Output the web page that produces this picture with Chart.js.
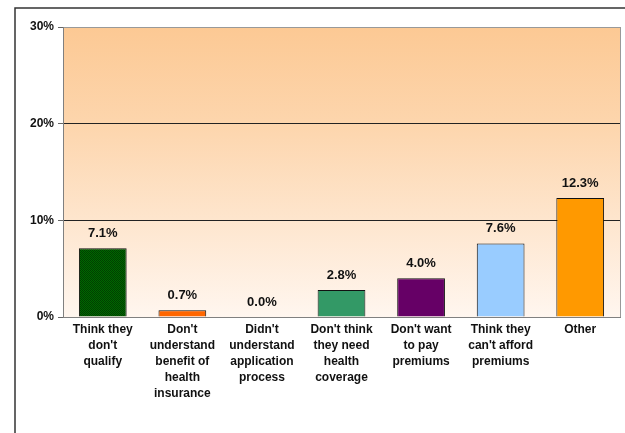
<!DOCTYPE html>
<html>
<head>
<meta charset="utf-8">
<script src="https://cdn.jsdelivr.net/npm/chart.js@4"></script>
<style>
  html, body { margin: 0; padding: 0; background: #fff; }
  #wrap { width: 625px; height: 433px; }
</style>
</head>
<body>
<div id="wrap"><canvas id="myChart" width="625" height="433"></canvas></div>
<script>
// data
const categories = [
  ['Think they', "don't", 'qualify'],
  ["Don't", 'understand', 'benefit of', 'health', 'insurance'],
  ["Didn't", 'understand', 'application', 'process'],
  ["Don't think", 'they need', 'health', 'coverage'],
  ["Don't want", 'to pay', 'premiums'],
  ['Think they', "can't afford", 'premiums'],
  ['Other']
];
const values = [7.1, 0.7, 0.0, 2.8, 4.0, 7.6, 12.3];
const yTicks = [0, 10, 20, 30];

// first bar has a small checker pattern
function checker() {
  const c = document.createElement('canvas');
  c.width = 2; c.height = 2;
  const g = c.getContext('2d');
  g.fillStyle = '#006600'; g.fillRect(0, 0, 2, 2);
  g.fillStyle = '#003f00'; g.fillRect(0, 0, 1, 1); g.fillRect(1, 1, 1, 1);
  return g.createPattern(c, 'repeat');
}
const barColors = [checker(), '#FF6600', '#FFFFFF', '#339966', '#660066', '#99CCFF', '#FF9900'];

// background of plot area + outer frame
const bgPlugin = {
  id: 'bg',
  beforeDraw(chart) {
    const { ctx, chartArea: a } = chart;
    ctx.save();
    const grad = ctx.createLinearGradient(0, a.top, 0, a.bottom);
    grad.addColorStop(0, '#FCC994');
    grad.addColorStop(0.35, '#FDD6AE');
    grad.addColorStop(1, '#FFF6EF');
    ctx.fillStyle = grad;
    ctx.fillRect(a.left, a.top, a.right - a.left, a.bottom - a.top);
    // frame
    ctx.strokeStyle = '#333';
    ctx.lineWidth = 1.5;
    ctx.beginPath();
    ctx.moveTo(15, 433);
    ctx.lineTo(15, 8);
    ctx.lineTo(625, 8);
    ctx.stroke();
    // plot border (right side)
    ctx.strokeStyle = '#999';
    ctx.lineWidth = 1;
    ctx.beginPath();
    ctx.moveTo(a.right + 0.5, a.top);
    ctx.lineTo(a.right + 0.5, a.bottom);
    ctx.stroke();
    ctx.restore();
  }
};

// value labels over bars
const labelPlugin = {
  id: 'vals',
  afterDatasetsDraw(chart) {
    const { ctx } = chart;
    const meta = chart.getDatasetMeta(0);
    ctx.save();
    ctx.font = 'bold 13px "Liberation Sans", Arial, sans-serif';
    ctx.fillStyle = '#111';
    ctx.textAlign = 'center';
    ctx.textBaseline = 'middle';
    meta.data.forEach((bar, i) => {
      ctx.fillText(values[i].toFixed(1) + '%', bar.x, bar.y - 15);
    });
    ctx.restore();
  }
};

const ctx = document.getElementById('myChart');

new Chart(ctx, {
  type: 'bar',
  data: {
    labels: categories,
    datasets: [{
      data: values,
      backgroundColor: barColors,
      borderColor: '#111',
      borderWidth: 1,
      barPercentage: 0.6,
      categoryPercentage: 1.0
    }]
  },
  options: {
    responsive: false,
    animation: false,
    layout: { padding: { left: 0, top: 27, right: 5, bottom: 0 } },
    plugins: {
      legend: { display: false },
      tooltip: { enabled: false }
    },
    scales: {
      x: {
        grid: { display: false, drawTicks: false },
        border: { color: '#808080', width: 1 },
        ticks: {
          color: '#111',
          font: { family: '"Liberation Sans", Arial, sans-serif', size: 12, weight: 'bold', lineHeight: 1.33 },
          padding: 5,
          maxRotation: 0,
          autoSkip: false
        },
        afterFit(s) { s.height = 116; }
      },
      y: {
        min: 0,
        max: 30,
        afterBuildTicks(s) { s.ticks = yTicks.map(v => ({ value: v })); },
        grid: {
          color: c => (c.tick && (c.tick.value === 10 || c.tick.value === 20)) ? '#222' : '#999',
          tickColor: '#666',
          tickLength: 5
        },
        border: { color: '#808080', width: 1 },
        ticks: {
          color: '#111',
          font: { family: '"Liberation Sans", Arial, sans-serif', size: 12, weight: 'bold' },
          padding: 4,
          callback: v => v + '%'
        },
        afterFit(s) { s.width = 63; }
      }
    }
  },
  plugins: [bgPlugin, labelPlugin]
});
</script>
</body>
</html>
